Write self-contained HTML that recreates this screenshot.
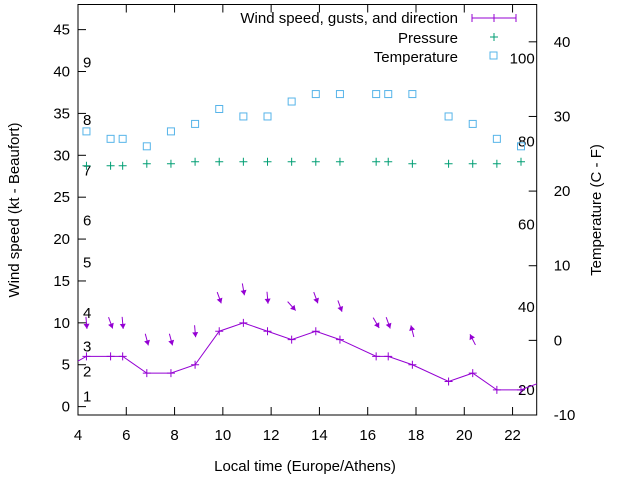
<!DOCTYPE html>
<html><head><meta charset="utf-8"><style>
html,body{margin:0;padding:0;background:#fff;}
svg{display:block;font-family:"Liberation Sans",Arial,sans-serif;font-size:15px;}
</style></head><body>
<svg id="chart" width="640" height="480" viewBox="0 0 640 480">
<g id="axes"></g>
<g id="marks"></g>
<g id="legend">
  <text x="458" y="23" text-anchor="end">Wind speed, gusts, and direction</text>
  <line x1="472" y1="18" x2="516" y2="18" stroke="#9400d3"/>
  <line x1="472" y1="14" x2="472" y2="22" stroke="#9400d3"/>
  <line x1="516" y1="14" x2="516" y2="22" stroke="#9400d3"/>
  <path d="M490 18h8M494 14v8" stroke="#9400d3"/>
  <text x="458" y="43" text-anchor="end">Pressure</text>
  <path d="M490 37h8M494 33v8" stroke="#009e73"/>
  <text x="458" y="62" text-anchor="end">Temperature</text>
  <rect x="490" y="52" width="7" height="7" fill="none" stroke="#56b4e9"/>
</g>
<text x="305" y="471" text-anchor="middle">Local time (Europe/Athens)</text>
<text transform="translate(19,210) rotate(-90)" text-anchor="middle">Wind speed (kt - Beaufort)</text>
<text transform="translate(601,210) rotate(-90)" text-anchor="middle">Temperature (C - F)</text>
</svg>
<script>
const hours = [4.35,5.35,5.85,6.85,7.85,8.85,9.85,10.85,11.85,12.85,13.85,14.85,16.35,16.85,17.85,19.35,20.35,21.35,22.35];
const windSpeed = [6,6,6,4,4,5,9,10,9,8,9,8,6,6,5,3,4,2,2];
const gustHours = [4.35,5.35,5.85,6.85,7.85,8.85,9.85,10.85,11.85,12.85,13.85,14.85,16.35,16.85,17.85,20.35];
const gustSpeed = [10,10,10,8,8,9,13,14,13,12,13,12,10,10,9,8];
const windFrom = [355,340,355,345,345,355,340,350,355,318,340,340,330,340,166,153];
const pressure = [1014,1014,1014,1015,1015,1016,1016,1016,1016,1016,1016,1016,1016,1016,1015,1015,1015,1015,1016];
const temperature = [28,27,27,26,28,29,31,30,30,32,33,33,33,33,33,30,29,27,26];
const leftTicks = [0,5,10,15,20,25,30,35,40,45];
const rightTicks = [-10,0,10,20,30,40];
const xTicks = [4,6,8,10,12,14,16,18,20,22];
const beaufort = [[1,1.2],[2,4.2],[3,7.2],[4,11.2],[5,17.2],[6,22.2],[7,28.2],[8,34.2],[9,41.1]];
const fahrenheitTicks = [20,40,60,80,100];

const L=78,R=536.7,T=4.5,B=415;
const xs=h=>L+(h-4)*(R-L)/19;
const yl=v=>B-(v+1)*(B-T)/49;
const yr=c=>B-(c+10)*(B-T)/55;
const yp=p=>161.7+(1016-p)*2;
const NS="http://www.w3.org/2000/svg";
function mk(tag,attrs,parent){const e=document.createElementNS(NS,tag);for(const k in attrs)e.setAttribute(k,attrs[k]);parent.appendChild(e);return e;}
const axes=document.getElementById('axes'),marks=document.getElementById('marks');

let frame=mk('rect',{x:L,y:T,width:R-L,height:B-T,fill:'none',stroke:'#000'},axes);


leftTicks.forEach(v=>{
  const y=yl(v);
  let t=mk('line',{x1:L,y1:y,x2:L+8,y2:y,stroke:'#000'},axes);
  
  
  let s=mk('text',{x:L-8,y:y+5,'text-anchor':'end'},axes);s.textContent=v;
  
  
});
rightTicks.forEach(v=>{
  const y=yr(v);
  let t=mk('line',{x1:R,y1:y,x2:R-8,y2:y,stroke:'#000'},axes);
  
  
  let s=mk('text',{x:R+17,y:y+5,'text-anchor':'start'},axes);s.textContent=v;
  
  
});
xTicks.forEach(v=>{
  const x=xs(v);
  let t=mk('line',{x1:x,y1:B,x2:x,y2:B-8,stroke:'#000'},axes);
  
  
  let t2=mk('line',{x1:x,y1:T,x2:x,y2:T+8,stroke:'#000'},axes);
  
  
  let s=mk('text',{x:x,y:B+25,'text-anchor':'middle'},axes);s.textContent=v;
  
  
});
beaufort.forEach(([n,v])=>{
  let s=mk('text',{x:83,y:yl(v)+5},axes);s.textContent=n;
  
  
});
fahrenheitTicks.forEach(f=>{
  let s=mk('text',{x:R-2,y:yr((f-32)*5/9)+5,'text-anchor':'end'},axes);s.textContent=f;
  
  
});

// clip
const defs=mk('defs',{},marks);const cp=mk('clipPath',{id:'pc'},defs);mk('rect',{x:L,y:T,width:R-L,height:B-T},cp);
const n=hours.length;
const pts=[[xs(3.35),yl(4.4)]].concat(hours.map((h,i)=>[xs(h),yl(windSpeed[i])])).concat([[xs(23.35),yl(3.1)]]);
let line=mk('polyline',{points:pts.map(p=>p.join(',')).join(' '),fill:'none',stroke:'#9400d3','clip-path':'url(#pc)'},marks);


hours.forEach((h,i)=>{
  const x=xs(h),y=yl(windSpeed[i]);
  let p=mk('path',{d:`M${x-4} ${y}h8M${x} ${y-4}v8`,stroke:'#9400d3'},marks);
  
  
  const py=yp(pressure[i]);
  let q=mk('path',{d:`M${x-4} ${py}h8M${x} ${py-4}v8`,stroke:'#009e73'},marks);
  
  
  const ty=yr(temperature[i]);
  let r=mk('rect',{x:x-3.5,y:ty-3.5,width:7,height:7,fill:'none',stroke:'#56b4e9'},marks);
  
  
});
gustHours.forEach((h,i)=>{
  const cx=xs(h),cy=yl(gustSpeed[i]);
  const t=(windFrom[i]+180)*Math.PI/180, Lh=12;
  const dx=Math.sin(t)*Lh, dy=-Math.cos(t)*Lh;
  const x1=cx-dx/2,y1=cy-dy/2,x2=cx+dx/2,y2=cy+dy/2;
  const ux=dx/Lh,uy=dy/Lh,hl=5,hw=3;
  const bx=x2-ux*hl,by=y2-uy*hl;
  let a=mk('line',{x1:x1,y1:y1,x2:x2,y2:y2,stroke:'#9400d3'},marks);
  
  
  let hd=mk('polygon',{points:`${x2},${y2} ${bx-uy*hw},${by+ux*hw} ${bx+uy*hw},${by-ux*hw}`,fill:'#9400d3'},marks);
  
  
});
</script>
</body></html>
